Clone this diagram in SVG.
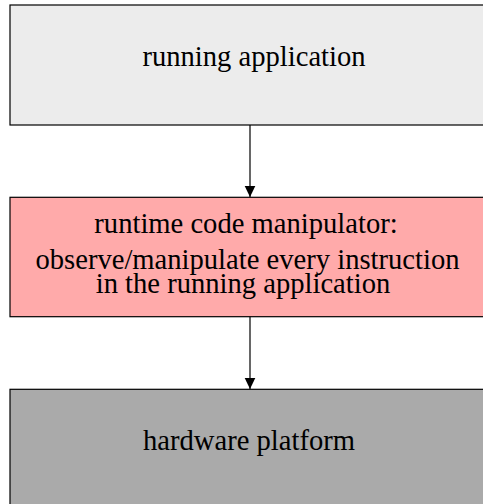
<svg xmlns="http://www.w3.org/2000/svg" width="483" height="504" viewBox="0 0 483 504">
<style>
.box{stroke:#000;stroke-width:1.2}
.lbl{font-family:"Liberation Serif","Times New Roman",serif;font-size:28.6px;fill:#000;text-anchor:middle}
.edge{stroke:#000;stroke-width:1.2;fill:none}
</style>
<defs>
<marker id="arr" viewBox="0 0 11 14" refX="11" refY="7" markerWidth="11" markerHeight="14" markerUnits="userSpaceOnUse" orient="auto">
<path d="M0,1.7 L11,7 L0,12.3 Z" fill="#000"/>
</marker>
</defs>
<rect x="0" y="0" width="483" height="504" fill="#fff"/>
<g id="node-app">
<rect class="box" x="10" y="5" width="480" height="120" fill="#ececec"/>
<text class="lbl" x="254" y="66">running application</text>
</g>
<g id="node-rcm">
<rect class="box" x="10" y="197.3" width="480" height="119.4" fill="#ffaaaa"/>
<text class="lbl" x="246" y="233.3">runtime code manipulator:</text>
<text class="lbl" x="247.5" y="269.3">observe/manipulate every instruction</text>
<text class="lbl" x="243" y="292.7">in the running application</text>
</g>
<g id="node-hw">
<rect class="box" x="10" y="389.3" width="480" height="120" fill="#aaaaaa"/>
<text class="lbl" x="249" y="450">hardware platform</text>
</g>
<g id="edges">
<line class="edge" x1="250" y1="125" x2="250" y2="197" marker-end="url(#arr)"/>
<line class="edge" x1="250" y1="316.7" x2="250" y2="389" marker-end="url(#arr)"/>
</g>
</svg>
